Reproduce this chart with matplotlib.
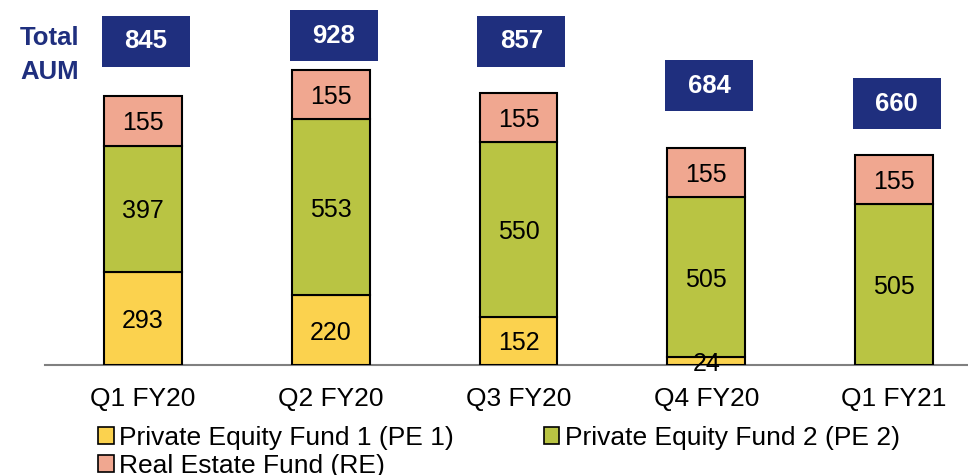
import matplotlib.pyplot as plt
from matplotlib.patches import Rectangle, Patch

plt.rcParams['font.family'] = ['Liberation Sans', 'DejaVu Sans']

quarters = ["Q1 FY20", "Q2 FY20", "Q3 FY20", "Q4 FY20", "Q1 FY21"]
pe1 = [293, 220, 152, 24, 0]
pe2 = [397, 553, 550, 505, 505]
re = [155, 155, 155, 155, 155]
totals = [845, 928, 857, 684, 660]

series_names = ["Private Equity Fund 1 (PE 1)", "Private Equity Fund 2 (PE 2)",
                "Real Estate Fund (RE)"]
colors = ["#FBD24E", "#B9C443", "#F0A790"]
navy = "#1F2F7E"

# vertical centre of each "total" box, in data units
box_y = [1018, 1035, 1018, 879, 822]

fig = plt.figure(figsize=(9.68, 4.75), dpi=100)
ax = fig.add_axes([45 / 968, 110 / 475, 1 - 45 / 968, 365 / 475])

x = list(range(len(quarters)))
width = 0.415
bottom = [0] * len(x)
for vals, col in zip([pe1, pe2, re], colors):
    bars = ax.bar(x, vals, width, bottom=bottom, color=col, edgecolor="black",
                  linewidth=1.5, zorder=3)
    for xi, b, v in zip(x, bottom, vals):
        if v > 0:
            ax.text(xi, b + v / 2, str(v), ha="center", va="center_baseline",
                    fontsize=18, color="black", zorder=4)
    bottom = [b + v for b, v in zip(bottom, vals)]

# total AUM boxes
bw, bh = 0.469, 160
for xi, t, yc in zip(x, totals, box_y):
    ax.add_patch(Rectangle((xi + 0.015 - bw / 2, yc - bh / 2), bw, bh,
                           facecolor=navy, edgecolor="none", zorder=3,
                           clip_on=False))
    ax.text(xi + 0.015, yc, str(t), ha="center", va="center", fontsize=18.5,
            fontweight="bold", color="white", zorder=4)

fig.text(50 / 968, 1 - 38 / 475, "Total", ha="center", va="center",
         fontsize=18.5, fontweight="bold", color=navy)
fig.text(50 / 968, 1 - 72 / 475, "AUM", ha="center", va="center",
         fontsize=18.5, fontweight="bold", color=navy)

ax.set_xlim(-0.522, 4.394)
ax.set_ylim(0, 1148)
ax.set_xticks(x)
ax.set_xticklabels(quarters, fontsize=19)
ax.tick_params(axis="x", length=0, pad=16)
ax.set_yticks([])
for s in ["top", "right", "left"]:
    ax.spines[s].set_visible(False)
ax.spines["bottom"].set_color("#808080")
ax.spines["bottom"].set_linewidth(1.5)

handles = [Patch(facecolor=c, edgecolor="black", linewidth=1.2) for c in colors]
order = [0, 2, 1]
fig.legend([handles[i] for i in order], [series_names[i] for i in order],
           loc="upper left", bbox_to_anchor=(98 / 968, 1 - 426 / 475), ncol=2,
           frameon=False, fontsize=19, handlelength=0.6, handleheight=0.6,
           handletextpad=0.2, columnspacing=3.4, labelspacing=0.15,
           borderpad=0, borderaxespad=0)

fig.savefig("out.png", dpi=100)
